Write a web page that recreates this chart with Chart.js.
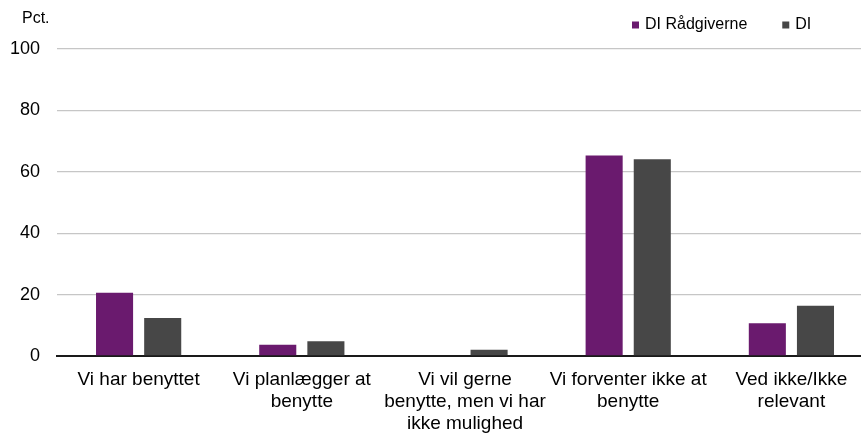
<!DOCTYPE html>
<html>
<head>
<meta charset="utf-8">
<script src="https://cdn.jsdelivr.net/npm/chart.js@4/dist/chart.umd.min.js"></script>
<style>
  html, body { margin: 0; padding: 0; background: #fff; overflow: hidden; }
  #wrap { width: 873px; height: 434px; position: relative; }
</style>
</head>
<body>
<div id="wrap"><canvas id="canvasChart"></canvas></div>
<script>
const categories = [
  ['Vi har benyttet'],
  ['Vi planlægger at', 'benytte'],
  ['Vi vil gerne', 'benytte, men vi har', 'ikke mulighed'],
  ['Vi forventer ikke at', 'benytte'],
  ['Ved ikke/Ikke', 'relevant']
];
const seriesNames = ['DI Rådgiverne', 'DI'];
const raadgiverne = [20.6, 3.7, 0, 65.3, 10.7];
const diValues = [12.4, 4.8, 2.0, 64.1, 16.4];
const yTicks = [0, 20, 40, 60, 80, 100];
const colors = ['#6a1a6e', '#474747'];

const FONT = '"Liberation Sans", Arial, sans-serif';

// "Pct." above the y axis and the legend in the top right corner
const extras = {
  id: 'extras',
  afterDraw(chart) {
    const c = chart.ctx;
    const y = chart.scales.y;
    c.save();
    c.fillStyle = '#000';
    c.textBaseline = 'middle';
    c.font = '16px ' + FONT;
    c.textAlign = 'left';
    c.fillText('Pct.', 22, y.top - 30);

    let x = 632;
    const ly = 25;
    chart.data.datasets.forEach(ds => {
      c.fillStyle = ds.backgroundColor;
      c.fillRect(x, ly - 3.5, 7, 7);
      c.fillStyle = '#000';
      c.fillText(ds.label, x + 13, ly);
      x += 13 + c.measureText(ds.label).width + 35;
    });
    c.restore();
  }
};

document.addEventListener('DOMContentLoaded', function () {
  const ctx = document.getElementById('canvasChart').getContext('2d');

  new Chart(ctx, {
    type: 'bar',
    data: {
      labels: categories,
      datasets: [{
        label: seriesNames[0],
        data: raadgiverne,
        backgroundColor: colors[0],
        borderWidth: 0
      }, {
        label: seriesNames[1],
        data: diValues,
        backgroundColor: colors[1],
        borderWidth: 0
      }]
    },
    options: {
      responsive: true,
      maintainAspectRatio: false,
      animation: false,
      categoryPercentage: 0.59,
      barPercentage: 0.77,
      layout: { padding: { top: 49, right: 0, left: -7, bottom: -14 } },
      plugins: {
        legend: { display: false },
        tooltip: { enabled: false }
      },
      scales: {
        x: {
          grid: { display: false, drawTicks: false },
          border: { display: true, color: '#1a1a1a', width: 2 },
          ticks: {
            color: '#000',
            maxRotation: 0,
            autoSkip: false,
            padding: 13,
            font: { size: 19, family: FONT, lineHeight: '22px' }
          }
        },
        y: {
          min: 0,
          max: 100,
          afterBuildTicks: axis => { axis.ticks = yTicks.map(v => ({ value: v })); },
          grid: { color: '#c6c6c6', lineWidth: 1.3, drawTicks: false },
          border: { display: false },
          ticks: {
            color: '#000',
            padding: 17,
            font: { size: 18, family: FONT }
          }
        }
      }
    },
    plugins: [extras]
  });
});
</script>
</body>
</html>
